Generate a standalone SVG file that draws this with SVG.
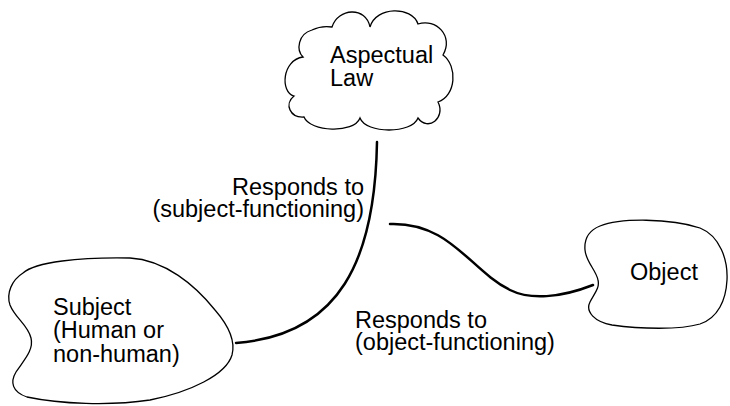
<svg xmlns="http://www.w3.org/2000/svg" width="730" height="406" viewBox="0 0 730 406">
<style>
.shape{fill:#fff;stroke:#000;stroke-width:1.3;}
.conn{fill:none;stroke:#000;stroke-width:2.5;stroke-linecap:round;}
text{font-family:"Liberation Sans",Arial,sans-serif;font-size:23.5px;fill:#000;}
</style>
<rect width="730" height="406" fill="#fff"/>
<g id="connectors">
<path class="conn" d="M377,142 C375,260 340,335 236,343"/>
<path class="conn" d="M390,224 C450,222 470,270 510,290 C530,300 560,298 593,285"/>
</g>
<g id="law">
<path class="shape" d="M303,57 C296,50 298,34 312,30 C318,27 326,26 332,27 C338,8 366,6 370,27 C376,6 412,6 418,24 C436,18 454,36 443,55 C458,66 456,96 438,102 C446,118 428,132 418,118 C412,134 366,134 360,118 C354,134 310,132 304,117 C290,118 284,104 294,96 C280,92 282,60 303,57 Z"/>
<text x="330" y="63">Aspectual</text>
<text x="330" y="86">Law</text>
</g>
<g id="subject">
<path class="shape" d="M23,273 C35,262 80,257 130,258 C165,260 195,285 215,310 C228,325 236,340 232,355 C226,375 190,392 150,400 C110,406 60,404 27,397 C12,392 10,382 16,372 C24,360 34,350 31,338 C28,325 15,318 10,305 C6,293 12,280 23,273 Z"/>
<text x="53" y="315">Subject</text>
<text x="53" y="338">(Human or</text>
<text x="53" y="362">non-human)</text>
</g>
<g id="object">
<path class="shape" d="M600,226 C620,218 670,218 700,228 C720,236 728,260 727,280 C726,300 718,318 700,324 C680,330 640,329 612,325 C595,322 585,312 590,302 C594,294 600,288 598,280 C596,270 586,262 585,250 C584,238 590,230 600,226 Z"/>
<text x="630" y="280">Object</text>
</g>
<g id="label-subject-functioning">
<text x="364" y="195" text-anchor="end">Responds to</text>
<text x="364" y="217" text-anchor="end">(subject-functioning)</text>
</g>
<g id="label-object-functioning">
<text x="355" y="328">Responds to</text>
<text x="355" y="350">(object-functioning)</text>
</g>
</svg>
